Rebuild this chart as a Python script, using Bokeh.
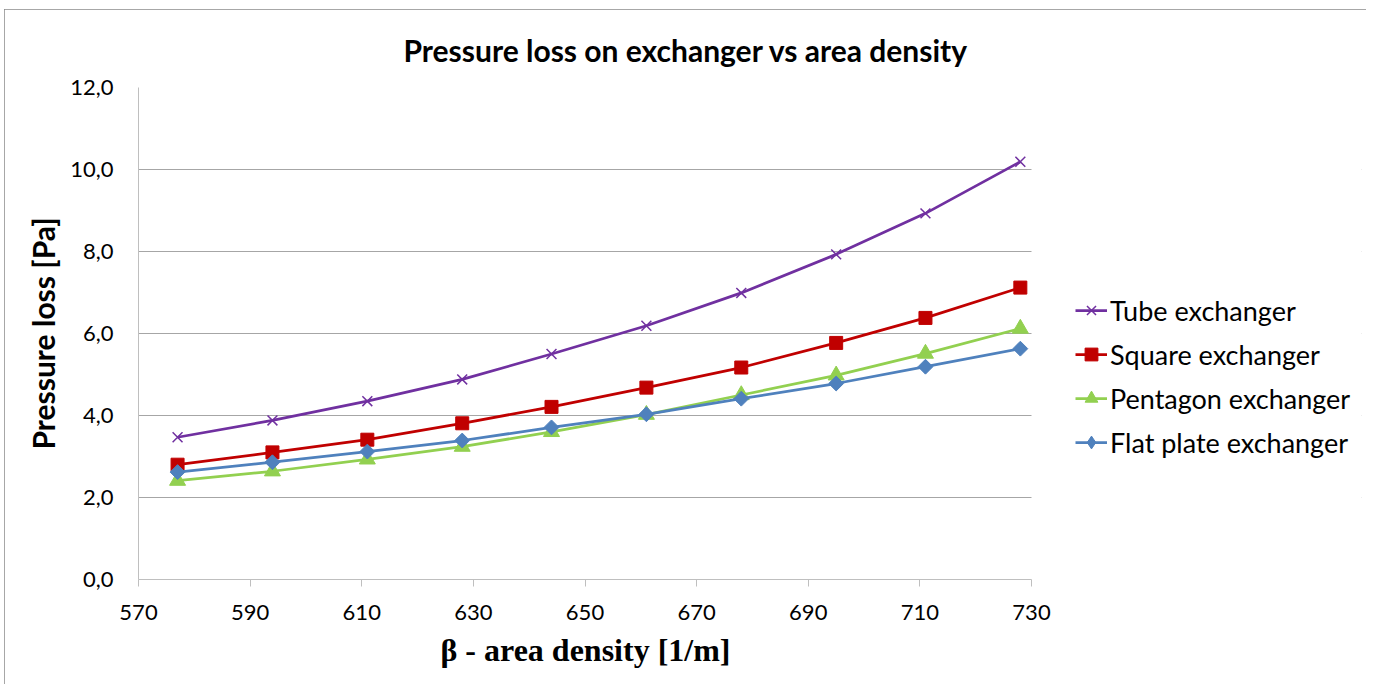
import math
from bokeh.plotting import figure
from bokeh.models import (Range1d, FixedTicker, CustomJSTickFormatter, Legend,
                          LegendItem, BoxAnnotation, Title)
from bokeh.embed import file_html
from bokeh.resources import INLINE

# ---- data -------------------------------------------------------------
beta = [577, 594, 611, 628, 644, 661, 678, 695, 711, 728]
tube = [3.47, 3.88, 4.35, 4.88, 5.50, 6.19, 6.99, 7.93, 8.93, 10.19]
square = [2.80, 3.10, 3.41, 3.81, 4.21, 4.68, 5.17, 5.77, 6.38, 7.12]
pentagon = [2.41, 2.64, 2.93, 3.24, 3.60, 4.02, 4.50, 4.98, 5.51, 6.12]
flat = [2.62, 2.86, 3.12, 3.39, 3.71, 4.03, 4.41, 4.78, 5.19, 5.63]

series_names = ["Tube exchanger", "Square exchanger", "Pentagon exchanger",
                "Flat plate exchanger"]
x_ticks = [570, 590, 610, 630, 650, 670, 690, 710, 730]
y_ticks = [0, 2, 4, 6, 8, 10, 12]

title_text = "Pressure loss on exchanger vs area density"
x_title = "\u03b2 - area density [1/m]"
y_title = "Pressure loss [Pa]"

# ---- layout sizes (pixels) --------------------------------------------
W, H = 1362, 675
left_b, top_b, bottom_b, right_b = 134, 78, 105, 5
plot_px = 893                      # width of the axis area 570..730
frame_px = W - left_b - right_b    # frame also hosts the legend on the right
x0, x1 = x_ticks[0], x_ticks[-1]
x_end = x1 + (x1 - x0) * (frame_px - plot_px) / plot_px

# ---- figure -----------------------------------------------------------
p = figure(width=W, height=H, x_range=Range1d(x0, x_end),
           y_range=Range1d(y_ticks[0], y_ticks[-1]), output_backend="svg",
           toolbar_location=None, min_border_left=left_b,
           min_border_right=right_b, min_border_top=top_b,
           min_border_bottom=bottom_b)
p.styles = {"margin-left": "4px", "margin-top": "9px",
            "outline": "1px solid #8a8a8a", "outline-offset": "-1px"}
p.outline_line_color = None
p.background_fill_color = "white"
p.border_fill_color = "white"

# title
p.title.text = title_text
p.title.align = "left"
p.title.offset = 265
p.title.standoff = 40
p.title.text_font = "Lato"
p.title.text_font_style = "bold"
p.title.text_font_size = "30px"
p.title.text_color = "#000000"

# axes
p.xaxis.ticker = FixedTicker(ticks=x_ticks)
p.xaxis.bounds = (x0, x1)
p.yaxis.ticker = FixedTicker(ticks=y_ticks)
p.yaxis.formatter = CustomJSTickFormatter(code="return tick.toFixed(1).replace('.', ',');")
for ax in (p.xaxis[0], p.yaxis[0]):
    ax.axis_line_color = "#bfbfbf"
    ax.axis_line_width = 1
    ax.major_tick_line_color = "#bfbfbf"
    ax.major_tick_in = 0
    ax.minor_tick_line_color = None
    ax.major_label_text_font = "Lato"
    ax.major_label_text_font_size = "22px"
    ax.major_label_text_color = "#000000"
p.xaxis.major_tick_out = 7
p.yaxis.major_tick_out = 0
p.xaxis.major_label_standoff = 18
p.yaxis.major_label_standoff = 25

# x-axis title, centred under the 570..730 axis (not the whole frame)
xt = Title(text=x_title, align="left", offset=302, vertical_align="top",
           standoff=18, text_font="Liberation Serif", text_font_style="bold",
           text_font_size="32px", text_color="#000000")
p.add_layout(xt, "below")

p.yaxis.axis_label = y_title
p.yaxis.axis_label_text_font = "Lato"
p.yaxis.axis_label_text_font_style = "bold"
p.yaxis.axis_label_text_font_size = "30px"
p.yaxis.axis_label_text_color = "#000000"
p.yaxis.axis_label_standoff = 6

p.xgrid.grid_line_color = None
p.ygrid.grid_line_color = "#a6a6a6"
p.ygrid.grid_line_width = 1

# blank out the grid to the right of the plot area (legend area)
p.add_layout(BoxAnnotation(left=x1, fill_color="white", fill_alpha=1.0,
                           line_color=None, level="underlay"))

# ---- series -----------------------------------------------------------
lw = 2.75
r1 = p.line(beta, tube, line_color="#7030a0", line_width=lw)
m1 = p.scatter(beta, tube, marker="x", size=14, line_color="#7030a0",
               line_width=1.5)
r2 = p.line(beta, square, line_color="#c00000", line_width=lw)
m2 = p.scatter(beta, square, marker="square", size=13, line_color="#c00000",
               fill_color="#c00000")
r3 = p.line(beta, pentagon, line_color="#92d050", line_width=lw)
m3 = p.scatter(beta, pentagon, marker="triangle", size=16,
               line_color="#92d050", fill_color="#92d050")
r4 = p.line(beta, flat, line_color="#4f81bd", line_width=lw)
m4 = p.scatter(beta, flat, marker="square", angle=math.pi / 4, size=10.5,
               line_color="#4f81bd", fill_color="#4f81bd")
# legend swatch for the diamonds (same data, only shown in the legend)
m4_key = p.scatter(beta, flat, marker="diamond", size=16,
                   line_color="#4f81bd", fill_color="#4f81bd", visible=False)

legend = Legend(items=[
    LegendItem(label=series_names[0], renderers=[r1, m1]),
    LegendItem(label=series_names[1], renderers=[r2, m2]),
    LegendItem(label=series_names[2], renderers=[r3, m3]),
    LegendItem(label=series_names[3], renderers=[r4, m4_key]),
], location=(plot_px + 44, 115))
legend.label_text_font = "Lato"
legend.label_text_font_size = "27px"
legend.label_text_color = "#000000"
legend.glyph_width = 32
legend.glyph_height = 44
legend.label_height = 44
legend.spacing = 0
legend.padding = 0
legend.margin = 0
legend.label_standoff = 3
legend.border_line_color = None
legend.background_fill_alpha = 0
legend.inactive_fill_alpha = 0
p.add_layout(legend, "center")

open("out.html", "w").write(file_html(p, INLINE))
